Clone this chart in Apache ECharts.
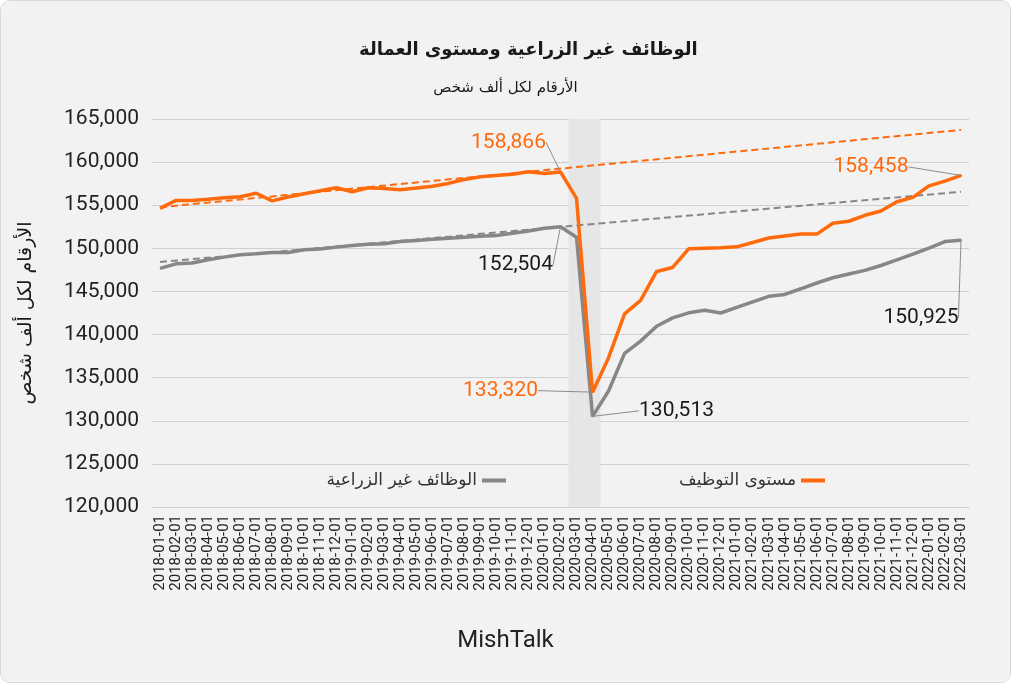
<!DOCTYPE html>
<html>
<head>
<meta charset="utf-8">
<script src="https://cdn.jsdelivr.net/npm/echarts@6/dist/echarts.min.js"></script>
<style>
html,body{margin:0;padding:0;background:#ffffff;}
#wrap{position:absolute;left:0;top:0;width:1009px;height:681px;background:#f2f2f2;border:1px solid #d9d9d9;border-radius:10px;overflow:hidden;}
#chart{width:1009px;height:681px;}
</style>
</head>
<body>
<div id="wrap"><div id="chart"></div></div>
<script>
const categories = [
 '2018-01-01','2018-02-01','2018-03-01','2018-04-01','2018-05-01','2018-06-01','2018-07-01','2018-08-01','2018-09-01','2018-10-01','2018-11-01','2018-12-01',
 '2019-01-01','2019-02-01','2019-03-01','2019-04-01','2019-05-01','2019-06-01','2019-07-01','2019-08-01','2019-09-01','2019-10-01','2019-11-01','2019-12-01',
 '2020-01-01','2020-02-01','2020-03-01','2020-04-01','2020-05-01','2020-06-01','2020-07-01','2020-08-01','2020-09-01','2020-10-01','2020-11-01','2020-12-01',
 '2021-01-01','2021-02-01','2021-03-01','2021-04-01','2021-05-01','2021-06-01','2021-07-01','2021-08-01','2021-09-01','2021-10-01','2021-11-01','2021-12-01',
 '2022-01-01','2022-02-01','2022-03-01'
];
// مستوى التوظيف (employment level, thousands)
const employmentLevel = [
 154640,155560,155560,155700,155880,155990,156390,155500,155950,156330,156670,157020,
 156560,157020,156950,156790,156990,157200,157530,157990,158290,158450,158600,158870,
 158680,158866,155790,133320,137320,142400,143970,147320,147780,149940,150020,150060,
 150170,150680,151200,151440,151650,151650,152910,153140,153830,154330,155400,155910,
 157250,157790,158458
];
// الوظائف غير الزراعية (nonfarm payrolls, thousands)
const nonfarmPayrolls = [
 147670,148200,148290,148670,148980,149250,149360,149510,149510,149830,149910,150140,
 150330,150480,150520,150790,150900,151060,151180,151290,151390,151480,151740,152020,
 152330,152504,151290,130513,133460,137820,139240,140970,141940,142520,142820,142500,
 143150,143800,144430,144650,145310,145980,146590,147020,147440,148010,148670,149330,
 150020,150790,150925
];
// trend lines (start / end values)
const employmentTrend = [154770, 163730];
const payrollsTrend = [148420, 156560];
const shadedMonths = ['2020-03-01','2020-04-01'];
const annotatedMonths = ['2020-02-01','2020-04-01','2022-03-01'];
const yTicks = {min:120000, max:165000, interval:5000};

const seriesNames = ['مستوى التوظيف','الوظائف غير الزراعية'];
const ORANGE = '#ff6a0d';
const GRAY = '#878787';
const annotatedIdx = annotatedMonths.map(m => categories.indexOf(m));

function withLabels(values, color){
  return values.map((v,i)=> annotatedIdx.includes(i)
    ? {value:v, symbol:'circle', symbolSize:2, label:{show:true, color:color}}
    : {value:v, symbol:'none'});
}
const orangeOffsets = {25:[-52,-13], 27:[-92,15], 50:[-90,8]};
const grayOffsets = {25:[-45,55], 27:[84,11], 50:[-40,94]};

const fmt = v => v.toLocaleString('en-US');
const chart = echarts.init(document.getElementById('chart'));
const labelCommon = {position:'top', distance:5, fontSize:21, fontFamily:'Roboto', formatter:p=>fmt(p.value)};
const arabicFont = '"DejaVu Sans", sans-serif';

chart.setOption({
  backgroundColor:'#f2f2f2',
  animation:false,
  textStyle:{fontFamily:'Roboto, "DejaVu Sans", sans-serif'},
  title:[
    {text:'الوظائف غير الزراعية ومستوى العمالة', left:353, top:35,
     textStyle:{fontSize:18, fontWeight:'bold', color:'#1a1a1a', fontFamily:arabicFont}},
    {text:'الأرقام لكل ألف شخص', left:'center', top:75,
     textStyle:{fontSize:15, fontWeight:'normal', color:'#1a1a1a', fontFamily:arabicFont}},
    {text:'MishTalk', left:'center', top:623,
     textStyle:{fontSize:24, fontWeight:'normal', color:'#222', fontFamily:'Roboto'}}
  ],
  legend:[
    {data:[seriesNames[1]], right:499, top:466, align:'right', itemWidth:24, itemHeight:4, icon:'rect',
     textStyle:{fontSize:17, color:'#333', fontFamily:arabicFont}},
    {data:[seriesNames[0]], right:180, top:466, align:'right', itemWidth:24, itemHeight:4, icon:'rect',
     textStyle:{fontSize:17, color:'#333', fontFamily:arabicFont}}
  ],
  grid:{left:151, right:41, top:118, bottom:175, containLabel:false},
  xAxis:{
    type:'category', data:categories, boundaryGap:true,
    axisLine:{show:true, lineStyle:{color:'#cfcfcf'}},
    axisTick:{show:false},
    axisLabel:{rotate:90, interval:0, fontSize:15, color:'#222', margin:8, fontFamily:'Roboto'}
  },
  yAxis:{
    type:'value', min:yTicks.min, max:yTicks.max, interval:yTicks.interval,
    axisLine:{show:false}, axisTick:{show:false},
    splitLine:{lineStyle:{color:'#cfcfcf', width:1}},
    axisLabel:{fontSize:21, color:'#222', margin:13, formatter:v=>fmt(v), fontFamily:'Roboto'},
    name:'الأرقام لكل ألف شخص', nameLocation:'middle', nameGap:116, nameRotate:90,
    nameTextStyle:{fontSize:19, color:'#1a1a1a', fontFamily:arabicFont}
  },
  series:[
    {
      name:'shade', type:'bar', silent:true, barWidth:'100%', z:0,
      itemStyle:{color:'#e6e6e6'},
      data:categories.map(c=> shadedMonths.includes(c) ? yTicks.max : null)
    },
    {
      name:'employmentTrend', type:'line', silent:true, symbol:'none', z:3,
      lineStyle:{color:ORANGE, width:2, type:[7,4]},
      data:[[categories[0], employmentTrend[0]],[categories[categories.length-1], employmentTrend[1]]]
    },
    {
      name:'payrollsTrend', type:'line', silent:true, symbol:'none', z:3,
      lineStyle:{color:GRAY, width:2, type:[7,4]},
      data:[[categories[0], payrollsTrend[0]],[categories[categories.length-1], payrollsTrend[1]]]
    },
    {
      name:seriesNames[1], type:'line', z:4, showAllSymbol:true,
      color:GRAY, itemStyle:{color:GRAY},
      lineStyle:{color:GRAY, width:3.5},
      label:Object.assign({}, labelCommon, {color:'#1a1a1a'}),
      labelLine:{show:true, lineStyle:{color:'#8c8c8c', width:1}},
      labelLayout:p=>{const o=grayOffsets[p.dataIndex]||[0,0]; return {dx:o[0], dy:o[1]};},
      emphasis:{disabled:true},
      data:withLabels(nonfarmPayrolls,'#1a1a1a')
    },
    {
      name:seriesNames[0], type:'line', z:5, showAllSymbol:true,
      color:ORANGE, itemStyle:{color:ORANGE},
      lineStyle:{color:ORANGE, width:3.5},
      label:Object.assign({}, labelCommon, {color:ORANGE}),
      labelLine:{show:true, lineStyle:{color:'#8c8c8c', width:1}},
      labelLayout:p=>{const o=orangeOffsets[p.dataIndex]||[0,0]; return {dx:o[0], dy:o[1]};},
      emphasis:{disabled:true},
      data:withLabels(employmentLevel, ORANGE)
    }
  ]
});
</script>
</body>
</html>
